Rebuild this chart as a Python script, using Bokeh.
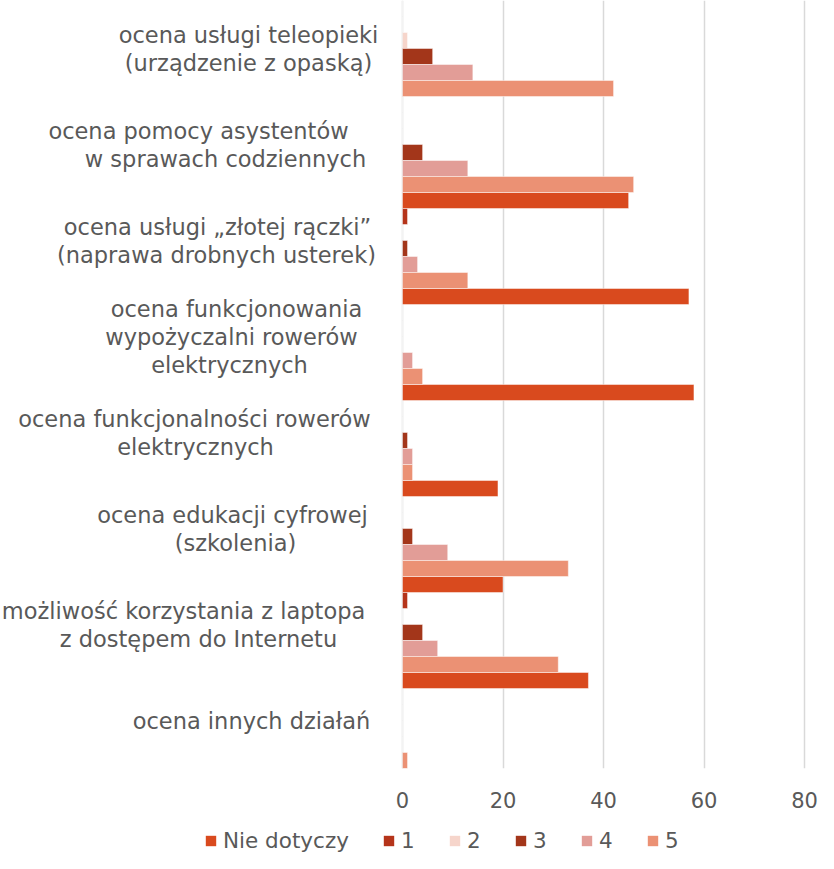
from bokeh.plotting import figure
from bokeh.models import (FactorRange, Range1d, FixedTicker, Legend, LegendItem,
                          ColumnDataSource)
from bokeh.layouts import column
from bokeh.core.properties import value
from bokeh.embed import file_html
from bokeh.resources import INLINE

# ---------------- data ----------------
categories = [
    "teleopieka", "asystenci", "zlota_raczka", "wypozyczalnia",
    "rowery", "edukacja", "laptop", "inne",
]
label_lines = [
    ["ocena usługi teleopieki", "(urządzenie z opaską)"],
    ["ocena pomocy asystentów", "w sprawach codziennych"],
    ["ocena usługi \u201ezłotej rączki\u201d", "(naprawa drobnych usterek)"],
    ["ocena funkcjonowania", "wypożyczalni rowerów", "elektrycznych"],
    ["ocena funkcjonalności rowerów", "elektrycznych"],
    ["ocena edukacji cyfrowej", "(szkolenia)"],
    ["możliwość korzystania z laptopa", "z dostępem do Internetu"],
    ["ocena innych działań"],
]
series = ["Nie dotyczy", "1", "2", "3", "4", "5"]
nie_dotyczy = [0, 0, 45, 57, 58, 19, 20, 37]
ocena_1 = [0, 0, 1, 0, 0, 0, 1, 0]
ocena_2 = [1, 0, 0, 0, 0, 0, 0, 0]
ocena_3 = [6, 4, 1, 0, 1, 2, 4, 0]
ocena_4 = [14, 13, 3, 2, 2, 9, 7, 0]
ocena_5 = [42, 46, 13, 4, 2, 33, 31, 1]
values = [nie_dotyczy, ocena_1, ocena_2, ocena_3, ocena_4, ocena_5]
x_ticks = [0, 20, 40, 60, 80]

# ---------------- style / layout ----------------
colors = ["#D94A1E", "#B5341A", "#F6D5CB", "#A3361A", "#E29D97", "#EB9174"]
FONT = "DejaVu Sans"
TEXT_COLOR = "#595959"
# horizontal centre of each label line, pixels relative to the zero line
label_centres = [
    [-154, -154],
    [-204, -177],
    [-185, -186],
    [-166, -171, -173],
    [-208, -207],
    [-170, -167],
    [-219, -204],
    [-151],
]
LINE_STEP = 28

FIG_W = 818
FRAME_H = 768
AXIS_H = 50
LEGEND_H = 35
ZERO_PX = 402                 # zero line, pixels from the left edge
PX_PER_UNIT = 402 / 80

factors = [(c, s) for c in reversed(categories) for s in reversed(series)]
y_range = FactorRange(factors=factors, range_padding=0, group_padding=0,
                      subgroup_padding=0, factor_padding=0)
x_range = Range1d(-ZERO_PX / PX_PER_UNIT, (FIG_W - ZERO_PX) / PX_PER_UNIT)

p = figure(
    frame_width=FIG_W, frame_height=FRAME_H,
    x_range=x_range, y_range=y_range,
    output_backend="svg", toolbar_location=None,
    y_axis_location=None,
    min_border_left=0, min_border_right=0, min_border_top=0, min_border_bottom=AXIS_H,
    background_fill_color="white", border_fill_color="white",
)
p.outline_line_color = None

for s, vals, col in zip(series, values, colors):
    src = ColumnDataSource(dict(y=[(c, s) for c in categories], right=vals))
    p.hbar(y="y", right="right", left=0, height=1.0, source=src,
           fill_color=col, line_color="white", line_alpha=0.45, line_width=1)

# category labels
tx, ty, tt, txo, tyo = [], [], [], [], []
for c, lines, centres in zip(categories, label_lines, label_centres):
    n = len(lines)
    for i, (ln, cx) in enumerate(zip(lines, centres)):
        tx.append(0)
        ty.append(c)
        tt.append(ln)
        txo.append(cx)
        tyo.append((i - (n - 1) / 2) * LINE_STEP)
lsrc = ColumnDataSource(dict(x=tx, y=ty, text=tt, xo=txo, yo=tyo))
p.text(x="x", y="y", text="text", x_offset="xo", y_offset="yo", source=lsrc,
       text_align="center", text_baseline="middle",
       text_font=value(FONT), text_font_size="22.5px", text_color=TEXT_COLOR)

# axis / grid
p.xaxis.ticker = FixedTicker(ticks=x_ticks)
p.xaxis.axis_line_color = None
p.xaxis.major_tick_line_color = None
p.xaxis.minor_tick_line_color = None
p.xaxis.major_label_standoff = 17
p.xaxis.major_label_text_font = FONT
p.xaxis.major_label_text_font_size = "21px"
p.xaxis.major_label_text_color = TEXT_COLOR
p.xgrid.grid_line_color = "#D9D9D9"
p.xgrid.grid_line_width = 1.5
p.ygrid.grid_line_color = None

# ---------------- legend strip ----------------
lg = figure(
    width=FIG_W, height=LEGEND_H, x_range=Range1d(0, 1), y_range=Range1d(0, 1),
    output_backend="svg", toolbar_location=None,
    x_axis_location=None, y_axis_location=None,
    min_border_left=0, min_border_right=0, min_border_top=0, min_border_bottom=0,
    background_fill_color="white", border_fill_color="white",
)
lg.outline_line_color = None
lg.xgrid.visible = False
lg.ygrid.visible = False
key_renderers = []
for s, col in zip(series, colors):
    # legend keys only: zero-length bars, nothing is drawn in the strip
    key_renderers.append(lg.hbar(y=[0.5], right=[0], left=0, height=0.0,
                                 fill_color=col, line_color=None))
legend = Legend(
    items=[LegendItem(label=s, renderers=[r]) for s, r in zip(series, key_renderers)],
    orientation="horizontal", location=(204, 0),
    glyph_width=13, glyph_height=13, label_standoff=6, spacing=33, label_width=14,
    padding=0, margin=0, border_line_alpha=0, background_fill_alpha=0,
    label_text_font=FONT, label_text_font_size="21.5px", label_text_color=TEXT_COLOR,
)
lg.add_layout(legend, "center")

layout = column(p, lg, spacing=0)
open("out.html", "w").write(file_html(layout, INLINE))
